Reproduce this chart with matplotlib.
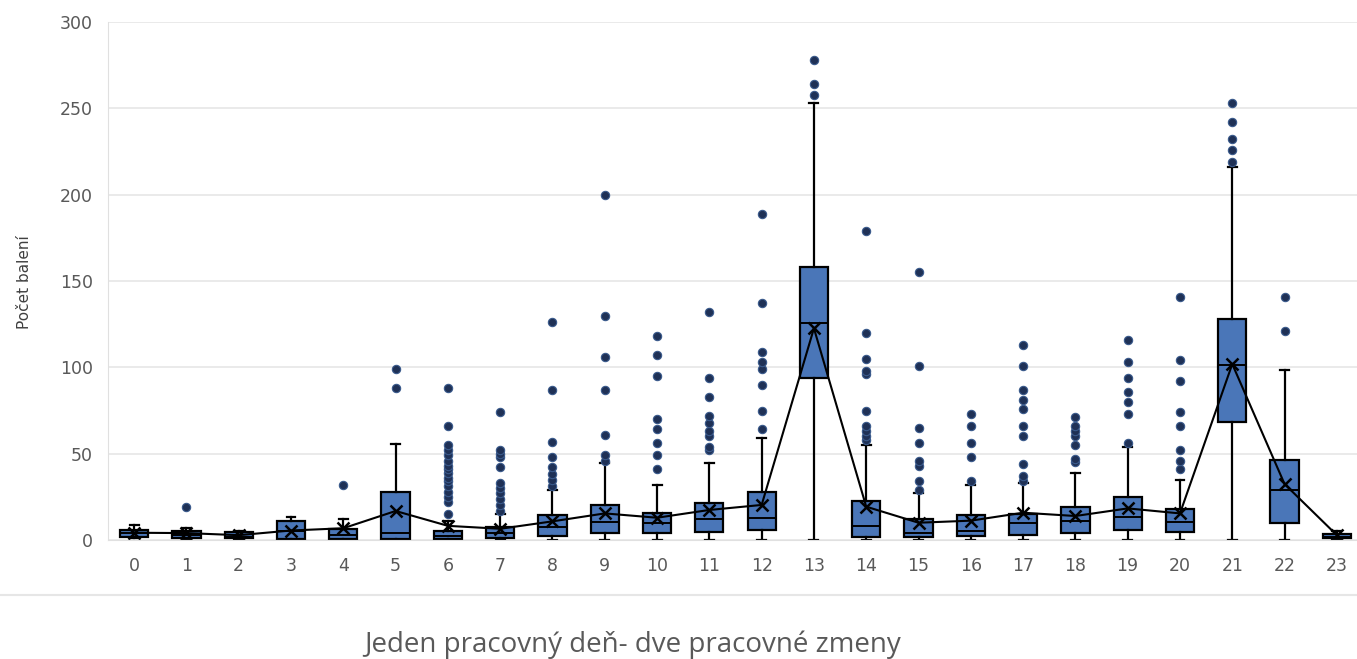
import matplotlib
matplotlib.use("Agg")
import matplotlib.pyplot as plt
from matplotlib.lines import Line2D

hours = list(range(24))
q1 = [2, 1, 1, 0.5, 0.5, 0.6, 0.4, 1.3, 2.3, 3.9, 3.9, 4.8, 5.8, 93.6,
      2, 1.6, 2.3, 2.9, 4.3, 5.8, 4.4, 68.5, 9.7, 1]
med = [4, 3, 2, 5, 3, 4, 2.5, 4, 7.7, 10.6, 9.7, 12, 12.5, 125.5,
       8.3, 4.3, 5.4, 9.7, 11.2, 13.1, 10.6, 101.3, 29, 2]
q3 = [6, 5.5, 4.5, 11, 6.2, 27.6, 5.2, 7.7, 14.5, 20.3, 15.4, 21.6, 27.6, 157.9,
      22.8, 12, 14.5, 15, 18.9, 25.1, 17.8, 127.8, 46.3, 3.5]
whislo = [1, 0, 0, 0, 0, 0, 0, 0, 0, 0, 0, 0, 0, 0,
          0, 0, 0, 0, 0, 0, 0, 0, 0, 0]
whishi = [8.5, 7, 5, 13.5, 12, 55.4, 11, 15, 29, 44.4, 31.8, 44.8, 59, 253,
          55, 27, 31.8, 33, 38.6, 54, 34.7, 215.8, 98.4, 5]
means = [4.2, 4, 2.8, 5.5, 6.8, 16.8, 8.2, 6.5, 10.8, 15.4, 12.9, 17.4, 20.3, 122.6,
         19.3, 10, 11.2, 15.8, 13.9, 18.3, 15.4, 101.9, 32.4, 2.8]
fliers = [
    [], [19], [], [], [32], [88, 99],
    [15, 22, 25, 28, 31, 34, 36, 39, 41, 43, 46, 49, 52, 55, 66, 88],
    [17, 20, 24, 27, 30, 33, 42, 48, 50, 52, 74],
    [31, 35, 38, 42, 48, 57, 87, 126],
    [46, 49, 61, 87, 106, 130, 200],
    [41, 49, 56, 64, 70, 95, 107, 118],
    [52, 54, 60, 63, 68, 72, 83, 94, 132],
    [64, 75, 90, 99, 103, 109, 137, 189],
    [258, 264, 278],
    [58, 60, 63, 66, 75, 96, 98, 105, 120, 179],
    [29, 34, 43, 46, 56, 65, 101, 155],
    [34, 48, 56, 66, 73],
    [34, 37, 44, 60, 66, 76, 81, 87, 101, 113],
    [45, 47, 55, 60, 63, 66, 71],
    [56, 73, 80, 86, 94, 103, 116],
    [41, 46, 52, 66, 74, 92, 104, 141],
    [219, 226, 232, 242, 253],
    [121, 141],
    [],
]

stats = []
for i in range(len(hours)):
    stats.append(dict(q1=q1[i], med=med[i], q3=q3[i], whislo=whislo[i],
                      whishi=whishi[i], mean=means[i], fliers=fliers[i]))

fig = plt.figure(figsize=(13.57, 6.59), dpi=100)
ax = fig.add_axes([108 / 1357, 119 / 659, 1255 / 1357, 518 / 659])

blue = "#4a76b8"
ax.bxp(stats, positions=hours, widths=0.54, patch_artist=True,
       showmeans=True, meanline=False,
       boxprops=dict(facecolor=blue, edgecolor="black", linewidth=1.6),
       medianprops=dict(color="black", linewidth=1.4),
       whiskerprops=dict(color="black", linewidth=1.6),
       capprops=dict(color="black", linewidth=1.6),
       capwidths=0.17,
       meanprops=dict(marker="x", markeredgecolor="black", markersize=9, markeredgewidth=1.8),
       flierprops=dict(marker="o", markerfacecolor="#1f3156", markeredgecolor="#3a5a8c",
                       markersize=6, markeredgewidth=0.8))
ax.plot(hours, means, color="black", linewidth=1.5, zorder=3)

ax.set_xlim(-0.5, 23.5)
ax.set_ylim(0, 300)
ax.set_yticks([0, 50, 100, 150, 200, 250, 300])
ax.set_xticks(hours)
ax.set_xticklabels([str(h) for h in hours])
ax.grid(axis="y", color="#e6e6e6", linewidth=1.2)
ax.set_axisbelow(True)
ax.tick_params(length=0, labelsize=12.5, colors="#595959")
ax.tick_params(axis="y", pad=11)
ax.tick_params(axis="x", pad=12)
for s in ["top", "right"]:
    ax.spines[s].set_visible(False)
ax.spines["left"].set_color("#e0e0e0")
ax.spines["bottom"].set_color("#e0e0e0")

fig.text(25 / 1357, 0.572, "Počet balení", rotation=90, ha="center", va="center",
         fontsize=11, color="#404040", family=["Liberation Sans Narrow", "DejaVu Sans"])
fig.text(633 / 1357, 14 / 659, "Jeden pracovný deň- dve pracovné zmeny",
         ha="center", va="center", fontsize=20, color="#595959",
         family=["Open Sans", "DejaVu Sans"])
fig.add_artist(Line2D([0, 1], [64 / 659, 64 / 659], color="#e6e6e6", linewidth=1.5))

fig.savefig("out.png", dpi=100)
